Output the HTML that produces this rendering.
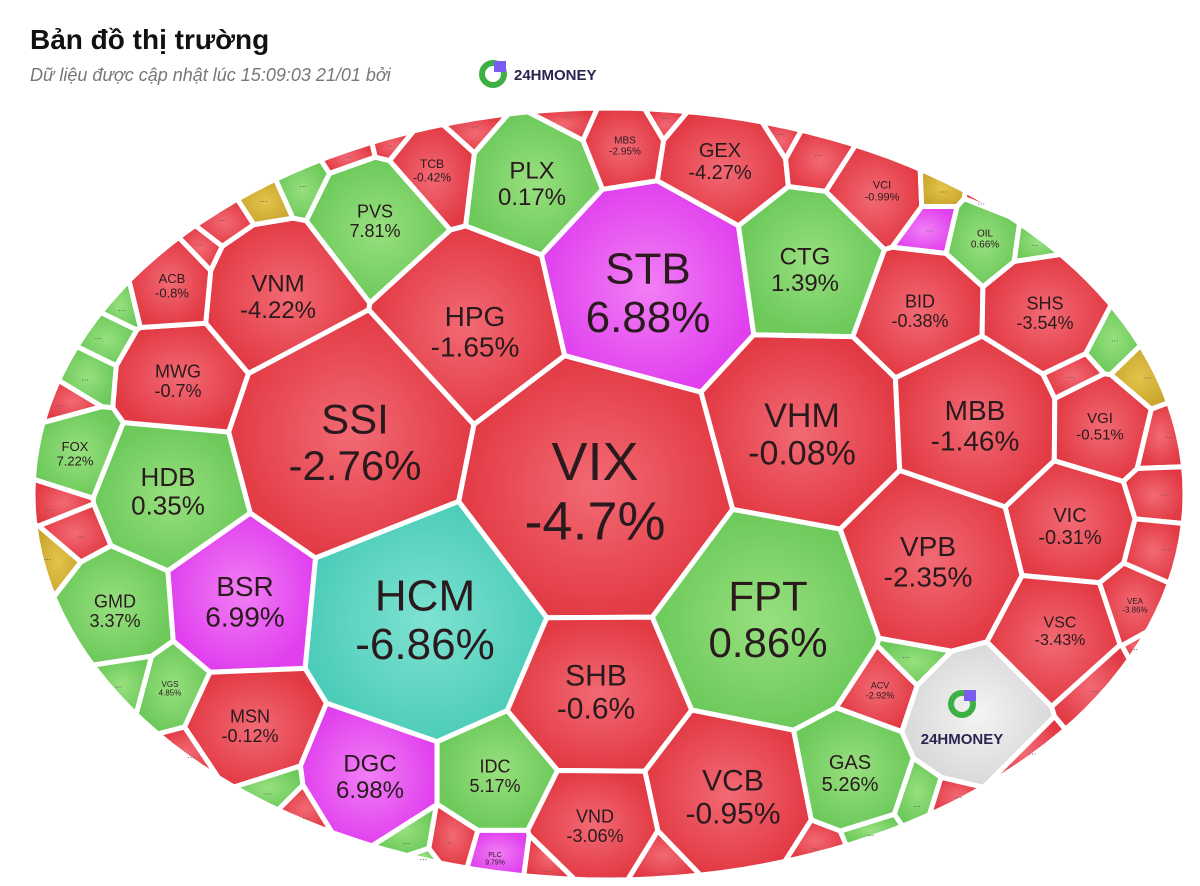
<!DOCTYPE html>
<html><head><meta charset="utf-8"><style>
body{margin:0;background:#fff;width:1200px;height:886px;overflow:hidden;font-family:"Liberation Sans",sans-serif}
#title{position:absolute;left:30px;top:24px;font-size:28px;font-weight:bold;color:#111}
#sub{position:absolute;left:30px;top:65px;font-size:18px;font-style:italic;color:#777}
#brand{position:absolute;left:478px;top:58px}
svg text{font-family:"Liberation Sans",sans-serif;fill:#2a1a1e;text-anchor:middle}
</style></head><body>
<div id="title">Bản đồ thị trường</div>
<div id="sub">Dữ liệu được cập nhật lúc 15:09:03 21/01 bởi</div>
<svg id="brand" width="140" height="32">
<circle cx="15" cy="16" r="11" fill="none" stroke="#3cb043" stroke-width="6"/>
<rect x="16" y="3" width="12" height="11" fill="#7b5cf0"/>
<text x="36" y="22" style="font-size:15px;font-weight:bold;text-anchor:start;fill:#2b2350">24HMONEY</text>
</svg>
<svg id="chart" width="1200" height="886" style="position:absolute;left:0;top:0">
<defs>
<radialGradient id="g-red"><stop offset="0" stop-color="#f26a74"/><stop offset="1" stop-color="#e23a44"/></radialGradient>
<radialGradient id="g-green"><stop offset="0" stop-color="#98e07f"/><stop offset="1" stop-color="#6cc95a"/></radialGradient>
<radialGradient id="g-mag"><stop offset="0" stop-color="#f27ff5"/><stop offset="1" stop-color="#e040ee"/></radialGradient>
<radialGradient id="g-cyan"><stop offset="0" stop-color="#7fe2d2"/><stop offset="1" stop-color="#4ccdb9"/></radialGradient>
<radialGradient id="g-yel"><stop offset="0" stop-color="#e2c54c"/><stop offset="1" stop-color="#cba62e"/></radialGradient>
<radialGradient id="g-gray"><stop offset="0" stop-color="#f4f4f4"/><stop offset="1" stop-color="#d8d8d8"/></radialGradient>
</defs>
</svg>
<script>
const tickers=["VIX","SSI","HCM","FPT","STB","HPG","VHM","SHB","VPB","MBB","VCB","BSR","HDB","VNM","CTG","PLX","GEX","PVS","BID","SHS","MWG","GMD","MSN","DGC","IDC","VND","GAS","VIC","VSC","VGI","FOX","ACB","TCB","MBS","VCI","OIL","ACV","VEA","VGS","PLC","24HMONEY"];
const changes=[-4.7,-2.76,-6.86,0.86,6.88,-1.65,-0.08,-0.6,-2.35,-1.46,-0.95,6.99,0.35,-4.22,1.39,0.17,-4.27,7.81,-0.38,-3.54,-0.7,3.37,-0.12,6.98,5.17,-3.06,5.26,-0.31,-3.43,-0.51,7.22,-0.8,-0.42,-2.95,-0.99,0.66,-2.92,-3.86,4.85,9.79,null];
const status=["d","d","f","u","c","d","d","d","d","d","d","c","u","d","u","u","d","u","d","d","d","u","d","c","u","d","u","d","d","d","u","d","d","d","d","u","d","d","u","c","x"];
// layout: seed x, y, radius, font size
const layout=[[595,488,135,54],[355,440,118,42],[425,617,118,44],[768,617,108,42],[648,290,105,44],[475,330,92,28],[802,432,98,34],[596,690,82,30],[928,560,86,28],[975,424,80,28],[733,795,78,30],[245,600,72,28],[168,490,70,26],[278,295,72,24],[805,268,70,24],[532,182,62,24],[720,160,58,20],[375,220,60,18],[920,310,56,18],[1045,312,56,18],[178,380,56,18],[115,610,52,18],[250,725,56,18],[370,775,62,24],[495,775,52,18],[595,825,56,18],[850,772,56,20],[1070,525,56,20],[1060,630,52,16],[1100,425,46,15],[75,453,40,13],[172,285,42,13],[432,170,42,12],[625,145,36,10],[882,190,42,11],[985,238,32,10],[880,690,32,9],[1135,605,26,8],[170,688,24,8],[495,858,20,7],[970,720,60,0]];
const fillers=[[262,200,"y"],[300,183,"u"],[228,222,"d"],[200,258,"d"],[118,298,"u"],[100,335,"u"],[82,372,"u"],[62,405,"d"],[350,150,"d"],[395,140,"d"],[470,128,"d"],[565,118,"d"],[670,118,"d"],[775,125,"d"],[820,150,"d"],[930,188,"y"],[930,225,"c"],[1035,245,"u"],[1000,200,"d"],[1108,345,"u"],[1075,375,"d"],[1140,378,"y"],[1163,440,"d"],[1165,495,"d"],[1160,548,"d"],[1105,680,"d"],[1160,650,"d"],[1010,760,"d"],[60,500,"d"],[48,558,"y"],[72,530,"d"],[125,676,"u"],[92,700,"d"],[270,788,"u"],[300,818,"d"],[410,838,"u"],[450,845,"d"],[420,868,"u"],[555,866,"d"],[660,865,"d"],[910,660,"u"],[918,795,"u"],[950,805,"d"],[820,850,"d"],[868,830,"u"],[190,765,"d"]];
const CX=609,CY=494,RX=576,RY=386;
const fills={d:"url(#g-red)",u:"url(#g-green)",c:"url(#g-mag)",f:"url(#g-cyan)",y:"url(#g-yel)",x:"url(#g-gray)"};
const svg=document.getElementById('chart');
const NS="http://www.w3.org/2000/svg";
const seeds=[];
tickers.forEach((t,i)=>seeds.push({x:layout[i][0],y:layout[i][1],w:layout[i][2]*layout[i][2],s:status[i],fs:layout[i][3],t:t,c:changes[i]}));
fillers.forEach(f=>seeds.push({x:f[0],y:f[1],w:18*18,s:f[2],fs:0,t:null}));
let ell=[];for(let k=0;k<160;k++){const a=k/160*Math.PI*2;ell.push([CX+RX*Math.cos(a),CY+RY*Math.sin(a)]);}
function clip(poly,a,b,c){const out=[];for(let k=0;k<poly.length;k++){const p=poly[k],q=poly[(k+1)%poly.length];const fp=a*p[0]+b*p[1]-c,fq=a*q[0]+b*q[1]-c;if(fp<=0)out.push(p);if((fp<0)!==(fq<0)&&fp!==fq){const t=fp/(fp-fq);out.push([p[0]+t*(q[0]-p[0]),p[1]+t*(q[1]-p[1])]);}}return out;}
seeds.forEach((s,i)=>{
  let poly=ell.slice();
  seeds.forEach((o,j)=>{if(i===j||poly.length===0)return;
    const a=2*(o.x-s.x),b=2*(o.y-s.y),c=(o.x*o.x+o.y*o.y)-(s.x*s.x+s.y*s.y)-o.w+s.w;
    poly=clip(poly,a,b,c);});
  if(poly.length<3)return;
  const g=document.createElementNS(NS,'g');
  
  
  const p=document.createElementNS(NS,'polygon');
  p.setAttribute('points',poly.map(q=>q[0].toFixed(1)+','+q[1].toFixed(1)).join(' '));
  p.setAttribute('fill',fills[s.s]);p.setAttribute('stroke','#fff');p.setAttribute('stroke-width','5');p.setAttribute('stroke-linejoin','round');
  g.appendChild(p);
  let cx=0,cy=0;poly.forEach(q=>{cx+=q[0];cy+=q[1]});cx/=poly.length;cy/=poly.length;
  if(s.t&&s.s!=="x"){
    const t1=document.createElementNS(NS,'text');t1.setAttribute('x',s.x);t1.setAttribute('y',s.y-s.fs*0.15);t1.setAttribute('font-size',s.fs);t1.textContent=s.t;g.appendChild(t1);
    const t2=document.createElementNS(NS,'text');t2.setAttribute('x',s.x);t2.setAttribute('y',s.y+s.fs*0.95);t2.setAttribute('font-size',s.fs);t2.textContent=s.c+'%';g.appendChild(t2);
  } else if(s.s==="x"){
    const c=document.createElementNS(NS,'circle');c.setAttribute('cx',s.x-8);c.setAttribute('cy',s.y-16);c.setAttribute('r',11);c.setAttribute('fill','none');c.setAttribute('stroke','#3cb043');c.setAttribute('stroke-width','6');g.appendChild(c);
    const r=document.createElementNS(NS,'rect');r.setAttribute('x',s.x-6);r.setAttribute('y',s.y-30);r.setAttribute('width',12);r.setAttribute('height',11);r.setAttribute('fill','#7b5cf0');g.appendChild(r);
    const t=document.createElementNS(NS,'text');t.setAttribute('x',s.x-8);t.setAttribute('y',s.y+24);t.setAttribute('font-size',15);t.setAttribute('font-weight','bold');t.setAttribute('style','fill:#2b2350');t.textContent='24HMONEY';g.appendChild(t);
  } else {
    const t=document.createElementNS(NS,'text');t.setAttribute('x',cx);t.setAttribute('y',cy+3);t.setAttribute('font-size',9);t.setAttribute('style','fill:#555');t.textContent='...';g.appendChild(t);
  }
  svg.appendChild(g);
});
</script>
</body></html>
